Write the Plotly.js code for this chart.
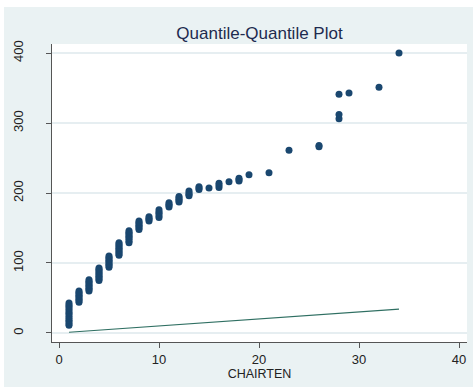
<!DOCTYPE html>
<html>
<head>
<meta charset="utf-8">
<script src="https://cdn.plot.ly/plotly-3.0.1.min.js"></script>
<style>
  html, body { margin: 0; padding: 0; background: #ffffff; }
  #chart { width: 474px; height: 390px; }
</style>
</head>
<body>
<div id="chart"></div>
<script>
// Paired sorted quantiles: CHAIRTEN (x) against the compared variable (y)
var chairtenQ = [
  1,1,1,1,1,1,1,1,1,1,1,1,1,
  2,2,2,2,2,2,2,2,2,
  3,3,3,3,3,3,3,3,3,
  4,4,4,4,4,4,4,4,4,4,
  5,5,5,5,5,5,5,5,5,
  6,6,6,6,6,6,6,6,6,6,
  7,7,7,7,7,7,7,7,7,
  8,8,8,8,8,8,8,
  9,9,9,9,
  10,10,10,10,10,
  11,11,11,11,
  12,12,12,12,12,
  13,13,13,13,
  14,14,14,
  15,
  16,16,16,
  17,
  18,18,18,
  19,
  21,
  23,
  26,26,
  28,28,28,
  29,
  32,
  34
];
var otherQ = [
  11,13,16,18,21,24,27,29,32,35,38,40,43,
  44,46,48,50,52,54,56,58,60,
  60,62,64,66,68,70,72,74,76,
  75,77,79,81,83,85,87,89,91,93,
  94,96,98,100,102,104,106,108,110,
  111,113,115,117,119,121,123,125,127,129,
  129,131,134,136,138,140,142,144,146,
  148,150,152,154,156,158,160,
  160,162,164,166,
  165,168,171,173,176,
  180,182,184,186,
  187,189,191,193,195,
  196,198,200,203,
  205,207,209,
  207,
  208,211,214,
  216,
  217,219,221,
  226,
  229,
  261,
  266,268,
  306,312,341,
  343,
  351,
  400
];
var xTicks = [0, 10, 20, 30, 40];
var yTicks = [0, 100, 200, 300, 400];

// 45-degree reference line across the span of CHAIRTEN
var lo = Math.min.apply(null, chairtenQ);
var hi = Math.max.apply(null, chairtenQ);

var refTrace = {
  x: [lo, hi], y: [lo, hi],
  type: 'scatter', mode: 'lines',
  line: { color: '#2f6f62', width: 1.2 },
  hoverinfo: 'skip', showlegend: false
};
var ptsTrace = {
  x: chairtenQ, y: otherQ,
  type: 'scatter', mode: 'markers',
  marker: { color: '#1a476f', size: 7, line: { width: 0 } },
  showlegend: false
};

var layout = {
  width: 474, height: 390,
  margin: { l: 52, r: 7, t: 44, b: 48, pad: 0 },
  paper_bgcolor: '#ffffff',
  plot_bgcolor: 'rgba(0,0,0,0)',
  font: { family: 'Liberation Sans, Arial, sans-serif', size: 12, color: '#222222' },
  title: {
    text: 'Quantile-Quantile Plot',
    font: { family: 'Liberation Sans, Arial, sans-serif', size: 17, color: '#1e2b4f' },
    x: 0.5, xref: 'paper', xanchor: 'center',
    y: 0.915, yref: 'container', yanchor: 'middle'
  },
  xaxis: {
    range: [-0.7, 40.8],
    tickvals: xTicks, ticktext: xTicks.map(String),
    ticks: 'outside', ticklen: 5, tickwidth: 1, tickcolor: '#555555',
    showline: true, linecolor: '#555555', linewidth: 1,
    showgrid: false, zeroline: false,
    tickfont: { size: 13, color: '#222222' },
    title: { text: 'CHAIRTEN', font: { size: 12.5, color: '#222222' }, standoff: 2 }
  },
  yaxis: {
    range: [-12.9, 412.9],
    tickvals: yTicks, ticktext: yTicks.map(String),
    ticks: 'outside', ticklen: 5, tickwidth: 1, tickcolor: '#555555',
    tickangle: -90,
    ticklabelstandoff: 18,
    showline: true, linecolor: '#555555', linewidth: 1,
    showgrid: true, gridcolor: '#e6eef1', gridwidth: 1.5,
    zeroline: false,
    tickfont: { size: 13, color: '#222222' }
  },
  shapes: [
    // graph region
    {
      type: 'rect', xref: 'paper', yref: 'paper', layer: 'below',
      x0: -0.1157, x1: 1.0145, y0: -0.151, y1: 1.1242,
      fillcolor: '#eaf2f3', line: { width: 0 }
    },
    // plot region
    {
      type: 'rect', xref: 'paper', yref: 'paper', layer: 'below',
      x0: 0, x1: 1, y0: 0, y1: 1,
      fillcolor: '#ffffff', line: { width: 0 }
    }
  ]
};

Plotly.newPlot('chart', [refTrace, ptsTrace], layout, { displayModeBar: false, staticPlot: true });
</script>
</body>
</html>
